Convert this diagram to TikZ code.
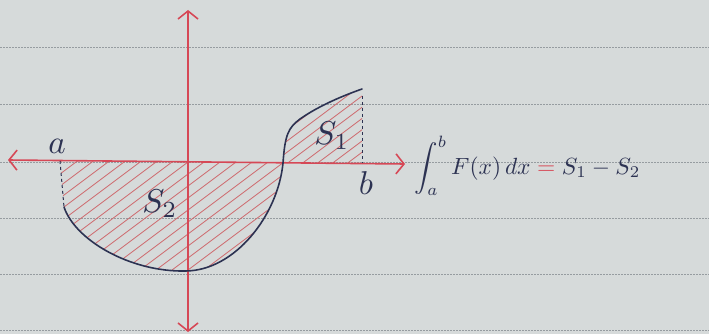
\documentclass[tikz,border=0pt]{standalone}
\usepackage{amsmath, amssymb}
\usetikzlibrary{arrows.meta}
\definecolor{paper}{RGB}{214,218,218}
\definecolor{ruleline}{RGB}{150,156,160}
\definecolor{axisred}{RGB}{214,72,86}
\definecolor{ink}{RGB}{44,50,82}
\definecolor{hatchred}{RGB}{206,104,108}
\tikzset{
  axisline/.style={axisred,line width=1.6pt,{Straight Barb[length=8pt,width=20pt]}-{Straight Barb[length=8pt,width=20pt]}},
  curveline/.style={ink,line width=1.6pt,line cap=round},
  dashline/.style={ink,line width=1pt,dashed},
  hatchline/.style={hatchred,line width=0.8pt},
  lbl/.style={ink,scale=3.3}
}
\begin{document}
\begin{tikzpicture}[x=1pt,y=-1pt]
% papier
\fill[paper] (0,0) rectangle (709,334);
\useasboundingbox (0,0) rectangle (709,334);
\foreach \y in {48,105,162,218,274,330}
  \draw[ruleline,line width=1pt,dash pattern=on 1.5pt off 1.5pt] (0,\y) -- (709,\y);
% hachures
\begin{scope}
\clip (60,161) -- (283,163) .. controls (278,215) and (235,271) .. (185,271)
  .. controls (130,272) and (75,240) .. (64,207) -- cycle;
\foreach \i in {-300,-284,...,300}
  \draw[hatchline] (\i,300) -- (\i+400,0);
\end{scope}
\begin{scope}
\clip (283,163) .. controls (285,135) and (288,128) .. (300,119)
  .. controls (320,105) and (345,95) .. (362,89) -- (362,163) -- cycle;
\foreach \i in {0,15,...,400}
  \draw[hatchline] (\i,300) -- (\i+400,0);
\end{scope}
% axes
\coordinate (O) at (188,161);
\coordinate (L) at (8,160);
\coordinate (R) at (405,164);
\coordinate (T) at (188,10);
\coordinate (B) at (188,332);
\draw[axisline] (L) -- (R);
\draw[axisline] (T) -- (B);
% courbe
\coordinate (A0) at (60,161);
\coordinate (A1) at (64,207);
\coordinate (C) at (283,163);
\coordinate (B1) at (362,89);
\coordinate (B0) at (362,163);
\draw[curveline] (A1) .. controls (75,240) and (130,272) .. (185,271)
  .. controls (235,271) and (278,215) .. (C)
  .. controls (285,135) and (288,128) .. (300,119)
  .. controls (320,105) and (345,95) .. (B1);
\draw[dashline] (A0) -- (A1);
\draw[dashline] (362,96) -- (B0);
% textes
\node[lbl] (la) at (57,146) {$a$};
\node[lbl] (lb) at (366,183) {$b$};
\node[lbl] (s1) at (332,136) {$S_1$};
\node[lbl] (s2) at (160,204) {$S_2$};
\node[lbl,scale=0.71,anchor=west,inner sep=0pt] (eq) at (414,166)
  {$\displaystyle\int_a^b F(x)\,dx \mathrel{\textcolor{axisred}{=}} S_1 - S_2$};
\end{tikzpicture}
\end{document}
